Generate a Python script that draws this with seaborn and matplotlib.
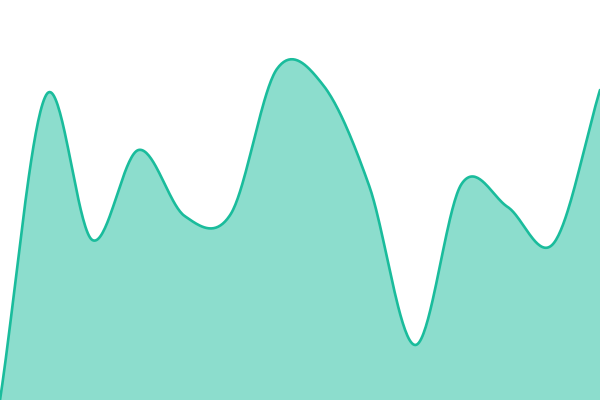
import numpy as np
import pandas as pd
import matplotlib
matplotlib.use("Agg")
import matplotlib.pyplot as plt
import seaborn as sns

# point positions (index) and values (0 = bottom, 400 = top)
steps = list(range(14))
values = [0, 305, 160, 250, 184, 186, 331, 315, 214, 55, 216, 193, 157, 310]

LINE_COLOR = "#1abc9c"


def catmull_rom(xs, ys, n=40):
    """ smooth curve through the points (uniform Catmull-Rom) """
    xs = np.asarray(xs, float)
    ys = np.asarray(ys, float)
    px = np.concatenate([[2 * xs[0] - xs[1]], xs, [2 * xs[-1] - xs[-2]]])
    py = np.concatenate([[2 * ys[0] - ys[1]], ys, [2 * ys[-1] - ys[-2]]])
    out_x, out_y = [], []
    t = np.linspace(0, 1, n, endpoint=False)
    for i in range(1, len(px) - 2):
        for p, out in ((px, out_x), (py, out_y)):
            p0, p1, p2, p3 = p[i - 1], p[i], p[i + 1], p[i + 2]
            out.extend(0.5 * ((2 * p1) + (-p0 + p2) * t
                              + (2 * p0 - 5 * p1 + 4 * p2 - p3) * t ** 2
                              + (-p0 + 3 * p1 - 3 * p2 + p3) * t ** 3))
    out_x.append(xs[-1])
    out_y.append(ys[-1])
    return np.array(out_x), np.array(out_y)


sx, sy = catmull_rom(steps, values)
curve = pd.DataFrame({"x": sx, "y": sy})

sns.set_style("white")
fig = plt.figure(figsize=(6, 4), dpi=100)
ax = fig.add_axes([0, 0, 1, 1])

ax.fill_between(curve["x"], curve["y"], 0, color=LINE_COLOR, alpha=0.5, linewidth=0)
sns.lineplot(data=curve, x="x", y="y", ax=ax, color=LINE_COLOR, linewidth=1.9, sort=False)

ax.set_xlim(steps[0], steps[-1])
ax.set_ylim(0, 400)
ax.axis("off")

fig.savefig("out.png", dpi=100)
